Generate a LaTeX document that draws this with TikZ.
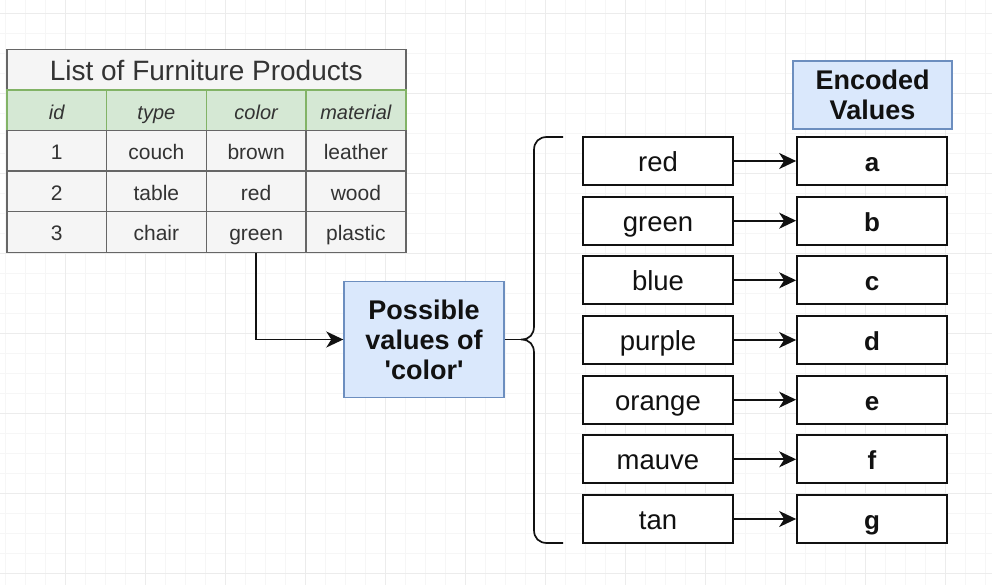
\documentclass[tikz,border=0pt]{standalone}
\usepackage{fontspec}
\setmainfont{Liberation Sans}
\usepackage{xcolor}
\usepackage{tikz}
\usetikzlibrary{arrows.meta,positioning}
\definecolor{figgrid}{HTML}{F6F6F6}
\definecolor{figgridm}{HTML}{ECECEC}
\definecolor{figtable}{HTML}{F5F5F5}
\definecolor{figtline}{HTML}{666666}
\definecolor{figtext}{HTML}{333333}
\definecolor{figgreen}{HTML}{D5E8D4}
\definecolor{figgline}{HTML}{82B366}
\definecolor{figblue}{HTML}{DAE8FC}
\definecolor{figbline}{HTML}{6C8EBF}
\definecolor{figink}{HTML}{111111}

\tikzset{
  cell/.style={draw=figtline, fill=figtable, line width=1.5pt, anchor=north west,
    minimum width=99.75pt, minimum height=40.5pt, inner sep=0pt, text=figtext,
    text height=22pt, text depth=4.4pt, font=\fontsize{21}{22}\selectfont},
  headcell/.style={cell, draw=figgline, fill=figgreen, text height=22.6pt, text depth=4pt,
    font=\fontsize{20}{22}\selectfont\itshape},
  valbox/.style={draw=figink, line width=1.7pt, fill=white, minimum width=150pt,
    minimum height=48pt, inner sep=0pt, text=figink, text height=26pt, text depth=5pt,
    font=\fontsize{27.5}{30}\selectfont},
  codebox/.style={valbox, font=\fontsize{26}{30}\selectfont\bfseries},
  bluebox/.style={draw=figbline, fill=figblue, line width=1.4pt, inner sep=0pt, align=center,
    text=figink, font=\fontsize{27}{30}\selectfont\bfseries},
  arr/.style={draw=figink, line width=1.8pt, -{Stealth[length=17pt,width=16pt,inset=5pt]}},
}

\begin{document}
\begin{tikzpicture}[x=1pt,y=-1pt]
\useasboundingbox (0,0) rectangle (992,585);

% background grid
\begin{scope}[shift={(65,13)}]
\draw[figgrid, line width=0.6pt, step=20pt] (-65,-13) grid (927,572);
\draw[figgridm, line width=0.7pt, step=80pt] (-65,-13) grid (927,572);
\end{scope}

% table
\node[cell, minimum width=399pt, text height=26pt, text depth=5.4pt, font=\fontsize{28}{30}\selectfont] (title) at (6,49) {List of Furniture Products};
\node[headcell] (hid) at (6,89.5) {id};
\node[headcell] (htype) at (105.75,89.5) {type};
\node[headcell] (hcolor) at (205.5,89.5) {color};
\node[headcell] (hmat) at (305.25,89.5) {material};

\node[cell] (id1) at (6,130) {1};
\node[cell] (type1) at (105.75,130) {couch};
\node[cell] (color1) at (205.5,130) {brown};
\node[cell] (mat1) at (305.25,130) {leather};

\node[cell] (id2) at (6,170.5) {2};
\node[cell] (type2) at (105.75,170.5) {table};
\node[cell] (color2) at (205.5,170.5) {red};
\node[cell] (mat2) at (305.25,170.5) {wood};

\node[cell] (id3) at (6,211) {3};
\node[cell] (type3) at (105.75,211) {chair};
\node[cell] (color3) at (205.5,211) {green};
\node[cell] (mat3) at (305.25,211) {plastic};

% possible values
\node[bluebox, minimum width=160pt, minimum height=116pt] (possible) at (424,339.5)
  {Possible\\values of\\\textquotesingle color\textquotesingle};
\draw[arr] (color3.south) |- (possible.west);

% brace
\coordinate (bracetip) at (521,339.5);
\draw[figink, line width=1.7pt] (563,137) -- (547,137) .. controls (539,137) and (534,142) .. (534,150)
  -- (534,326) .. controls (534,334) and (530,339.5) .. (bracetip)
  .. controls (530,339.5) and (534,345) .. (534,353)
  -- (534,530) .. controls (534,538) and (539,543) .. (547,543) -- (563,543);
\draw[figink, line width=1.7pt] (possible.east) -- (bracetip);

% encoded values
\node[bluebox, minimum width=159pt, minimum height=68pt] (enchead) at (872.5,95) {Encoded\\Values};

\node[valbox] (vred) at (658,161) {red};
\node[valbox] (vgreen) at (658,220.7) {green};
\node[valbox] (vblue) at (658,280.3) {blue};
\node[valbox] (vpurple) at (658,340) {purple};
\node[valbox] (vorange) at (658,399.7) {orange};
\node[valbox] (vmauve) at (658,459.3) {mauve};
\node[valbox] (vtan) at (658,519) {tan};

\node[codebox] (ca) at (872,161) {a};
\node[codebox] (cb) at (872,220.7) {b};
\node[codebox] (cc) at (872,280.3) {c};
\node[codebox] (cd) at (872,340) {d};
\node[codebox] (ce) at (872,399.7) {e};
\node[codebox] (cf) at (872,459.3) {f};
\node[codebox] (cg) at (872,519) {g};

\draw[arr] (vred) -- (ca);
\draw[arr] (vgreen) -- (cb);
\draw[arr] (vblue) -- (cc);
\draw[arr] (vpurple) -- (cd);
\draw[arr] (vorange) -- (ce);
\draw[arr] (vmauve) -- (cf);
\draw[arr] (vtan) -- (cg);
\end{tikzpicture}
\end{document}
